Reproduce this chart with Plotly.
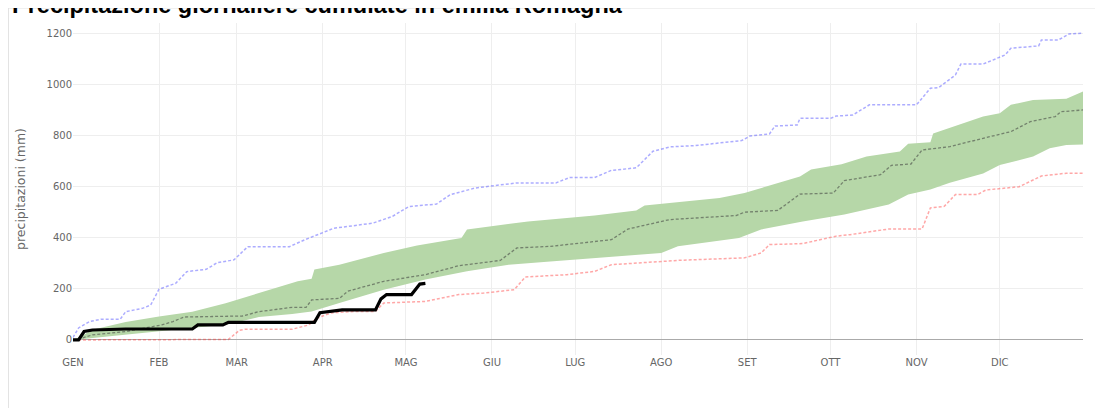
import plotly.graph_objects as go

# ---------------- data ----------------
month_ticks = ["2023-01-01", "2023-02-01", "2023-03-01", "2023-04-01", "2023-05-01", "2023-06-01",
               "2023-07-01", "2023-08-01", "2023-09-01", "2023-10-01", "2023-11-01", "2023-12-01"]
month_labels = ["GEN", "FEB", "MAR", "APR", "MAG", "GIU", "LUG", "AGO", "SET", "OTT", "NOV", "DIC"]

# current year cumulated precipitation (black)
cur_x = ["2023-01-01", "2023-01-03", "2023-01-05", "2023-01-08", "2023-01-20", "2023-02-13", "2023-02-15",
         "2023-02-24", "2023-02-26", "2023-03-29", "2023-03-31", "2023-04-08", "2023-04-20", "2023-04-22",
         "2023-04-24", "2023-05-03", "2023-05-06", "2023-05-08"]
cur_y = [0, 0, 33, 39, 43, 43, 59, 59, 69, 69, 107, 118, 118, 161, 178, 178, 219, 222]

# maximum (blue dotted)
max_x = ["2023-01-01", "2023-01-03", "2023-01-07", "2023-01-11", "2023-01-18", "2023-01-20", "2023-01-26",
         "2023-01-29", "2023-02-01", "2023-02-07", "2023-02-11", "2023-02-18", "2023-02-22", "2023-02-28",
         "2023-03-05", "2023-03-20", "2023-03-26", "2023-03-28", "2023-04-05", "2023-04-19", "2023-04-26",
         "2023-05-02", "2023-05-12", "2023-05-17", "2023-05-26", "2023-06-10", "2023-06-24", "2023-06-29",
         "2023-07-08", "2023-07-14", "2023-07-23", "2023-07-29", "2023-08-04", "2023-08-13", "2023-08-30",
         "2023-09-02", "2023-09-09", "2023-09-11", "2023-09-19", "2023-09-20", "2023-10-01", "2023-10-03",
         "2023-10-09", "2023-10-15", "2023-11-01", "2023-11-06", "2023-11-09", "2023-11-15", "2023-11-17",
         "2023-11-25", "2023-12-03", "2023-12-05", "2023-12-15", "2023-12-16", "2023-12-22", "2023-12-26",
         "2023-12-31"]
max_y = [10, 47, 72, 81, 81, 111, 124, 137, 199, 222, 268, 277, 303, 314, 366, 366, 395, 403, 438, 458, 484,
         523, 533, 570, 596, 616, 616, 637, 637, 665, 675, 740, 757, 762, 782, 800, 808, 839, 843, 869, 869,
         878, 882, 922, 922, 987, 990, 1039, 1082, 1082, 1118, 1144, 1153, 1176, 1176, 1200, 1203]

# minimum (red dotted)
min_x = ["2023-01-01", "2023-02-26", "2023-03-02", "2023-03-04", "2023-03-21", "2023-03-27", "2023-03-30",
         "2023-04-04", "2023-04-11", "2023-04-20", "2023-04-23", "2023-05-08", "2023-05-20", "2023-05-29",
         "2023-06-09", "2023-06-13", "2023-06-28", "2023-07-08", "2023-07-14", "2023-08-07", "2023-08-31",
         "2023-09-06", "2023-09-09", "2023-09-21", "2023-10-03", "2023-10-08", "2023-10-22", "2023-11-03",
         "2023-11-06", "2023-11-11", "2023-11-15", "2023-11-23", "2023-11-26", "2023-12-08", "2023-12-16",
         "2023-12-25", "2023-12-31"]
min_y = [0, 2, 38, 42, 42, 59, 86, 106, 111, 112, 145, 151, 178, 184, 197, 247, 256, 269, 295, 312, 322,
         341, 374, 378, 407, 413, 435, 435, 518, 524, 570, 570, 588, 601, 643, 654, 654]

# median (grey dotted)
med_x = ["2023-01-01", "2023-01-03", "2023-01-08", "2023-01-20", "2023-02-02", "2023-02-06", "2023-02-10",
         "2023-03-03", "2023-03-09", "2023-03-21", "2023-03-26", "2023-03-28", "2023-04-07", "2023-04-10",
         "2023-04-23", "2023-05-08", "2023-05-20", "2023-06-04", "2023-06-10", "2023-06-22", "2023-07-14",
         "2023-07-20", "2023-08-04", "2023-08-28", "2023-08-31", "2023-09-12", "2023-09-20", "2023-10-02",
         "2023-10-06", "2023-10-19", "2023-10-23", "2023-10-30", "2023-11-03", "2023-11-13", "2023-11-25",
         "2023-12-05", "2023-12-12", "2023-12-21", "2023-12-23", "2023-12-31"]
med_y = [0, 3, 20, 33, 59, 72, 90, 94, 111, 128, 128, 157, 163, 191, 230, 256, 291, 312, 361, 367, 393,
         435, 472, 488, 501, 508, 572, 576, 625, 648, 685, 690, 745, 758, 791, 817, 856, 876, 895, 902]

# upper edge of the green band
up_x = ["2023-01-01", "2023-01-04", "2023-01-08", "2023-01-20", "2023-02-01", "2023-02-13", "2023-02-25",
        "2023-03-09", "2023-03-21", "2023-03-23", "2023-03-28", "2023-03-29", "2023-04-07", "2023-04-23",
        "2023-05-05", "2023-05-21", "2023-05-23", "2023-06-14", "2023-07-08", "2023-07-23", "2023-07-26",
        "2023-08-22", "2023-08-31", "2023-09-10", "2023-09-20", "2023-09-24", "2023-10-05", "2023-10-14",
        "2023-10-26", "2023-10-29", "2023-11-06", "2023-11-07", "2023-11-14", "2023-11-25", "2023-12-01",
        "2023-12-05", "2023-12-13", "2023-12-25", "2023-12-31"]
up_y = [0, 15, 40, 70, 92, 111, 144, 183, 222, 230, 240, 276, 295, 341, 370, 400, 433, 465, 488, 508, 527,
        557, 576, 609, 641, 668, 689, 719, 739, 769, 775, 810, 835, 876, 889, 922, 941, 946, 974]

# lower edge of the green band
lo_x = ["2023-01-01", "2023-01-08", "2023-01-20", "2023-02-01", "2023-02-15", "2023-02-26", "2023-03-09",
        "2023-03-21", "2023-03-28", "2023-04-07", "2023-04-23", "2023-05-08", "2023-05-23", "2023-06-07",
        "2023-06-22", "2023-07-15", "2023-08-01", "2023-08-07", "2023-08-29", "2023-09-06", "2023-09-21",
        "2023-10-06", "2023-10-22", "2023-10-29", "2023-11-06", "2023-11-13", "2023-11-25", "2023-12-01",
        "2023-12-13", "2023-12-19", "2023-12-25", "2023-12-31"]
lo_y = [0, 10, 22, 35, 50, 62, 90, 102, 112, 145, 197, 237, 269, 295, 308, 328, 341, 367, 400, 433, 465,
        492, 531, 570, 590, 617, 653, 686, 719, 752, 765, 767]

# ---------------- figure ----------------
fig = go.Figure()

fig.add_trace(go.Scatter(
    x=up_x + lo_x[::-1], y=up_y + lo_y[::-1],
    fill="toself", fillcolor="#b6d7a8", line=dict(width=0), mode="lines", hoverinfo="skip"))

fig.add_trace(go.Scatter(x=min_x, y=min_y, mode="lines",
                         line=dict(color="rgba(255,60,60,0.45)", width=1.5, dash="3px,2px")))
fig.add_trace(go.Scatter(x=max_x, y=max_y, mode="lines",
                         line=dict(color="rgba(70,70,255,0.45)", width=1.5, dash="3px,2px")))
fig.add_trace(go.Scatter(x=med_x, y=med_y, mode="lines",
                         line=dict(color="rgba(60,60,60,0.55)", width=1.3, dash="3px,2px")))
fig.add_trace(go.Scatter(x=cur_x, y=cur_y, mode="lines",
                         line=dict(color="black", width=3.2)))

fig.update_layout(
    width=1095, height=400,
    margin=dict(l=65, r=20, t=15, b=53),
    paper_bgcolor="white", plot_bgcolor="white",
    showlegend=False,
    font=dict(family="DejaVu Sans, Verdana, sans-serif", size=10, color="#666666"),
    xaxis=dict(type="date", range=["2023-01-01", "2023-12-31"],
               tickvals=month_ticks, ticktext=month_labels,
               showgrid=True, gridcolor="#eeeeee", gridwidth=1,
               zeroline=False, showline=False, ticks="",
               tickfont=dict(size=10, color="#666666")),
    yaxis=dict(range=[-59, 1243], tickvals=[0, 200, 400, 600, 800, 1000, 1200],
               showgrid=True, gridcolor="#eeeeee", gridwidth=1,
               zeroline=True, zerolinecolor="#aaaaaa", zerolinewidth=1,
               showline=False, ticks="",
               tickfont=dict(size=10, color="#666666"),
               title=dict(text="precipitazioni (mm)", font=dict(size=12.5, color="#666666"),
                          standoff=18)),
    shapes=[dict(type="rect", xref="paper", yref="paper",
                 x0=-0.0644, x1=1.05, y0=-0.25, y1=1.047,
                 line=dict(color="#e2e2e2", width=2), fillcolor="rgba(0,0,0,0)", layer="below")],
    annotations=[dict(text="<b>Precipitazione giornaliere cumulate in emilia Romagna</b>",
                      xref="paper", yref="paper", x=-0.0628, y=1.054,
                      xanchor="left", yanchor="middle", showarrow=False,
                      font=dict(family="Liberation Sans, Arial, sans-serif", size=23.5, color="black"))],
)

fig.write_html("out.html")
